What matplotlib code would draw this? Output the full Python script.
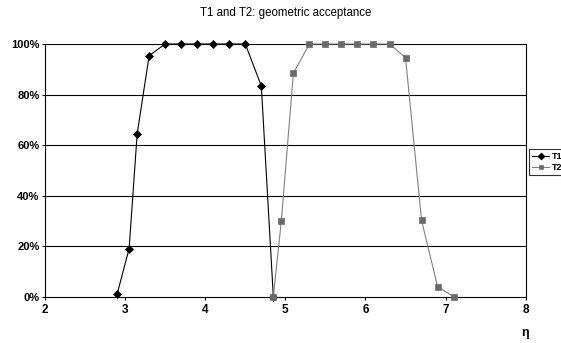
import matplotlib
matplotlib.use("Agg")
import matplotlib.pyplot as plt
from matplotlib.ticker import FuncFormatter

plt.rcParams['font.family'] = ['Liberation Sans', 'DejaVu Sans']

t1_eta = [2.9, 3.05, 3.15, 3.3, 3.5, 3.7, 3.9, 4.1, 4.3, 4.5, 4.7, 4.85]
t1_acc = [1.0, 19.0, 64.3, 95.4, 100, 100, 100, 100, 100, 100, 83.4, 0.0]
t2_eta = [4.85, 4.95, 5.1, 5.3, 5.5, 5.7, 5.9, 6.1, 6.3, 6.5, 6.7, 6.9, 7.1]
t2_acc = [0.0, 30.0, 88.4, 100, 100, 100, 100, 100, 100, 94.6, 30.2, 4.0, 0.0]
x_ticks = [2, 3, 4, 5, 6, 7, 8]
y_ticks = [0, 20, 40, 60, 80, 100]

W, H = 561, 343
fig = plt.figure(figsize=(W / 100, H / 100), dpi=100)
ax = fig.add_axes([45 / W, 1 - 296.7 / H, (525.7 - 45) / W, (296.7 - 44) / H])

ax.set_xlim(2, 8)
ax.set_ylim(0, 100)
ax.set_xticks(x_ticks)
ax.set_yticks(y_ticks)
ax.yaxis.set_major_formatter(FuncFormatter(lambda v, p: f"{int(v)}%"))
for y in y_ticks[1:]:
    ax.axhline(y, color='black', lw=0.8, zorder=1)

ax.plot(t1_eta, t1_acc, color='black', lw=0.8, marker='D', ms=3.8,
        markerfacecolor='black', markeredgecolor='black', mew=0.5,
        label='T1', zorder=3, clip_on=False)
ax.plot(t2_eta, t2_acc, color='#808080', lw=0.8, marker='s', ms=4.8,
        markerfacecolor='#6a6a6a', markeredgecolor='#6a6a6a', mew=0.5,
        label='T2', zorder=3, clip_on=False)

for s in ['left', 'bottom', 'right']:
    ax.spines[s].set_color('black')
    ax.spines[s].set_linewidth(0.8)
ax.spines['top'].set_visible(False)

ax.tick_params(axis='y', direction='out', length=2.5, width=0.8, labelsize=8, pad=1.5)
ax.tick_params(axis='x', direction='out', length=2.5, width=0.8, labelsize=8.5, pad=3)
for lbl in ax.get_xticklabels():
    lbl.set_fontweight('bold')
for lbl in ax.get_yticklabels():
    lbl.set_fontweight('bold')

fig.text(286 / W, 1 - 13.3 / H, 'T1 and T2: geometric acceptance',
         ha='center', va='center', fontsize=8.3)
fig.text(525 / W, 1 - 333 / H, 'η', ha='center', va='center', fontsize=9, fontweight='bold')

leg = fig.legend(loc='upper left', bbox_to_anchor=(529.3 / W, 1 - 149 / H),
                 fontsize=6.5, frameon=True, fancybox=False, edgecolor='black',
                 handlelength=1.9, handletextpad=0.25, borderpad=0.3,
                 labelspacing=0.25, borderaxespad=0)
leg.get_frame().set_linewidth(0.8)
for t in leg.get_texts():
    t.set_fontweight('bold')
for h in leg.legend_handles:
    h.set_markersize(3.5)

fig.savefig('out.png', dpi=100)
